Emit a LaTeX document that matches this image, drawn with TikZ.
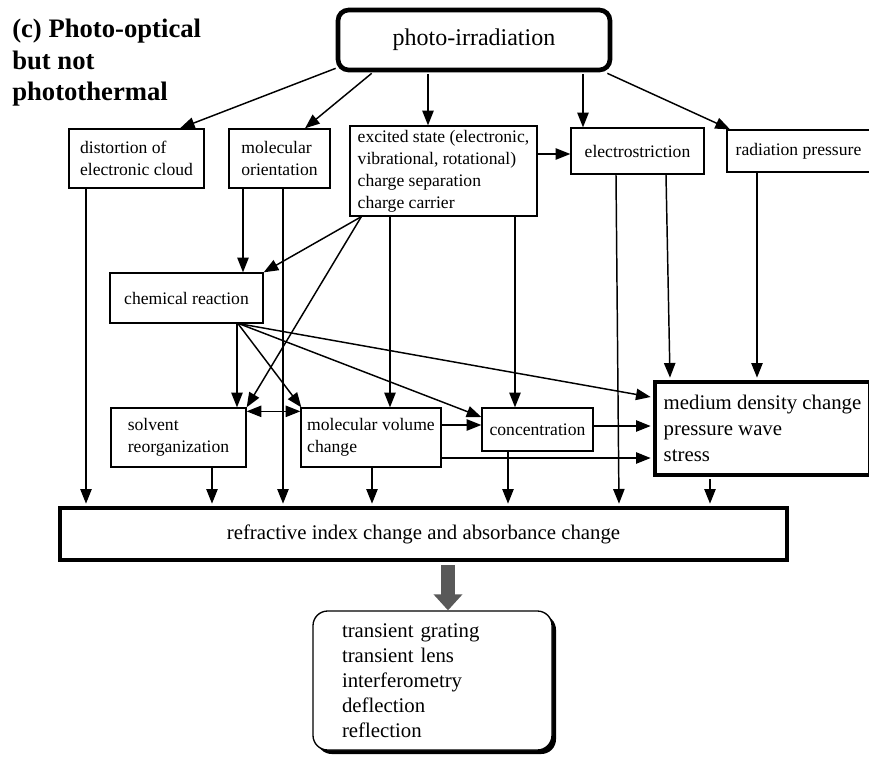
\documentclass[tikz,border=0pt]{standalone}
\usepackage{fontspec}
\setmainfont{Liberation Serif}
\usetikzlibrary{arrows.meta,calc,shadows}

\begin{document}
\begin{tikzpicture}[x=0.75pt,y=0.75pt,yscale=-1,xscale=1,
  box/.style={draw,line width=1pt,inner sep=0pt,align=left,font=\fontsize{13.2}{16.5}\selectfont},
  thickbox/.style={draw,line width=3.5pt,inner sep=0pt,align=left,font=\fontsize{15.6}{19.5}\selectfont},
  arr/.style={line width=1.1pt,-{Triangle[length=11pt,width=8.5pt]}},
  dblarr/.style={line width=1.1pt,{Triangle[length=11pt,width=8.5pt]}-{Triangle[length=11pt,width=8.5pt]}}]
\useasboundingbox (0,0) rectangle (869,758);

% Text Node
\draw (12,19) node [anchor=north west,inner sep=0pt,align=left,font=\bfseries\fontsize{20}{23.5}\selectfont] (title) {(c) Photo-optical\\but not\\photothermal};
% Text Node
\draw (474,40) node [draw,line width=3.5pt,rounded corners=8pt,minimum width=204pt,minimum height=45pt,font=\fontsize{18}{22}\selectfont] (irr) {photo-irradiation};
% Text Node
\draw (136.5,158.5) node [box,minimum width=101.25pt,minimum height=44.25pt] (dist) {distortion of\\electronic cloud};
% Text Node
\draw (279.5,158.5) node [box,minimum width=75.75pt,minimum height=44.25pt] (orient) {molecular\\orientation};
% Text Node
\draw (443.5,171) node [box,minimum width=140.25pt,minimum height=67.5pt] (excit) {excited state (electronic,\\vibrational, rotational)\\charge separation\\charge carrier};
% Text Node
\draw (637.5,151) node [box,minimum width=99.75pt,minimum height=34.5pt] (estr) {electrostriction};
% Text Node
\draw (798.5,151) node [box,minimum width=107.25pt,minimum height=31.5pt] (radp) {radiation pressure};
% Text Node
\draw (186.5,298) node [box,minimum width=114.75pt,minimum height=37.5pt] (chem) {chemical reaction};
% Text Node
\draw (178.5,437.5) node [box,minimum width=101.25pt,minimum height=44.25pt] (solv) {solvent\\reorganization};
% Text Node
\draw (371,437.5) node [box,minimum width=105pt,minimum height=44.25pt] (molv) {molecular volume\\change};
% Text Node
\draw (537.5,429.5) node [box,minimum width=83.25pt,minimum height=32.25pt] (conc) {concentration};
% Text Node
\draw (762.5,428.5) node [thickbox,minimum width=161.25pt,minimum height=69.75pt] (dens) {medium density change\\pressure wave\\stress};
% Text Node
\draw (423.5,534) node [thickbox,minimum width=545.25pt,minimum height=39pt] (refr) {refractive index change and absorbance change};
% Text Node
\draw (432.5,680.5) node [draw,line width=1pt,fill=white,rounded corners=11pt,inner xsep=21.75pt,text width=135.75pt,minimum height=104.25pt,align=left,font=\fontsize{15.6}{18.75}\selectfont,general shadow={fill=black,shadow xshift=3pt,shadow yshift=-3pt}] (meth) {transient grating\\transient lens\\interferometry\\deflection\\reflection};

% Connection
\draw [arr] ($(irr.south west)+(0,-4)$) -- ($(dist.north)+(43.5,0)$);
% Connection
\draw [arr] ($(irr.south west)+(36,1)$) -- ($(orient.north)+(25.5,0)$);
% Connection
\draw [arr] ($(irr.south)+(-46,2)$) -- ($(excit.north)+(-15.5,0)$);
% Connection
\draw [arr] ($(irr.south)+(109,2)$) -- ($(estr.north)+(-54.5,0)$);
% Connection
\draw [arr] ($(irr.south east)+(-5,1)$) -- ($(radp.north)+(-68.5,0)$);
% Connection
\draw [arr] ($(excit.east)+(0,-17)$) -- ($(estr.west)+(0,3)$);
% Connection
\draw [arr] ($(dist.south)+(-50.5,0)$) -- ($(refr.north)+(-337.5,-2)$);
% Connection
\draw [arr] ($(orient.south)+(-36.5,0)$) -- ($(chem.north)+(56.5,0)$);
% Connection
\draw [arr] ($(orient.south)+(3.5,0)$) -- ($(refr.north)+(-140.5,-2)$);
% Connection
\draw [arr] ($(excit.south west)+(12,0)$) -- (chem.north east);
% Connection
\draw [arr] ($(excit.south west)+(12,0)$) -- (solv.north east);
% Connection
\draw [arr] ($(excit.south)+(-53.5,0)$) -- ($(molv.north)+(19,0)$);
% Connection
\draw [arr] ($(excit.south)+(71.5,0)$) -- ($(conc.north)+(-22.5,0)$);
% Connection
\draw [arr] ($(estr.south)+(-21.5,0)$) -- ($(refr.north)+(195.5,-2)$);
% Connection
\draw [arr] ($(estr.south)+(28.5,0)$) -- ($(dens.north)+(-92.5,-2)$);
% Connection
\draw [arr] ($(radp.south)+(-41.5,0)$) -- ($(dens.north)+(-5.5,-2)$);
% Connection
\draw [arr] ($(chem.south)+(50.5,0)$) -- ($(solv.north)+(58.5,0)$);
% Connection
\draw [arr] ($(chem.south)+(51.5,0)$) -- ($(molv.north west)+(1,0)$);
% Connection
\draw [arr] ($(chem.south)+(52.5,0)$) -- ($(conc.west)+(0,-12.5)$);
% Connection
\draw [arr] ($(chem.south)+(52.5,0)$) -- ($(dens.west)+(-2,-31.5)$);
% Connection
\draw [dblarr] ($(solv.north east)+(0,4)$) -- ($(molv.north west)+(0,4)$);
% Connection
\draw [arr] ($(molv.east)+(0,-12.5)$) -- ($(conc.west)+(0,-4.5)$);
% Connection
\draw [arr] ($(conc.east)+(0,-3.5)$) -- ($(dens.west)+(-2,-2.5)$);
% Connection
\draw [arr] ($(molv.east)+(0,20.5)$) -- ($(dens.west)+(-2,29.5)$);
% Connection
\draw [arr] ($(solv.south)+(33.5,0)$) -- ($(refr.north)+(-211.5,-2)$);
% Connection
\draw [arr] ($(molv.south)+(1,0)$) -- ($(refr.north)+(-51.5,-2)$);
% Connection
\draw [arr] ($(conc.south)+(-29.5,0)$) -- ($(refr.north)+(84.5,-2)$);
% Connection
\draw [arr] ($(dens.south)+(-52.5,2)$) -- ($(refr.north)+(286.5,-2)$);
% Connection
\draw [line width=10.5pt,draw=black!65,-{Triangle[length=12pt,width=21pt]}] ($(refr.south)+(24.5,3)$) -- ($(meth.north)+(15.5,0)$);

\end{tikzpicture}
\end{document}
